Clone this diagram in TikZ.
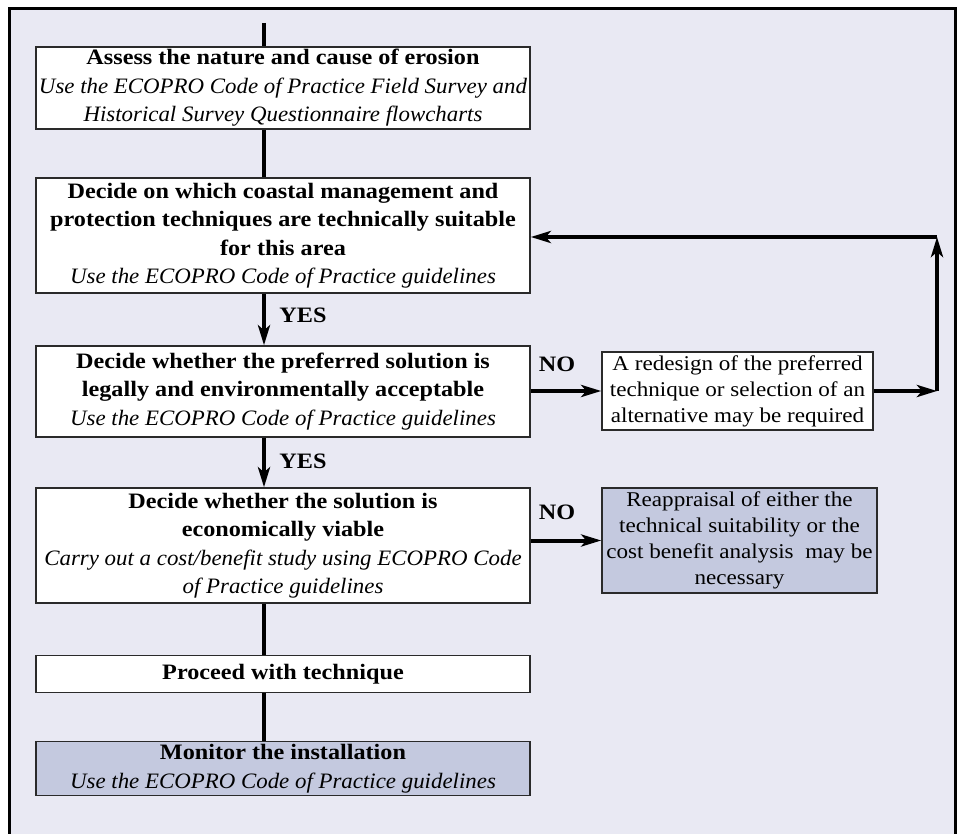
\documentclass[tikz,border=0pt]{standalone}
\usepackage{fontspec}
\setmainfont{Liberation Serif}[
  UprightFeatures={FakeStretch=1.1},
  BoldFeatures={FakeStretch=1.1},
  ItalicFeatures={FakeStretch=1.04}]
\usetikzlibrary{arrows.meta}
\definecolor{bgl}{HTML}{E9E9F3}
\definecolor{blu}{HTML}{C4C9DF}
\definecolor{edge}{HTML}{2A2A2A}
\tikzset{
  box/.style={draw=edge, line width=1.5pt, fill=white, inner sep=0pt, align=center,
    font=\fontsize{22}{28.5}\selectfont},
  sidebox/.style={draw=edge, line width=1.5pt, fill=white, inner sep=0pt, align=center,
    font=\fontsize{21}{26}\selectfont},
  lbl/.style={inner sep=0pt, font=\fontsize{22}{25}\selectfont\bfseries},
  flow/.style={line width=4pt},
  tip/.style={line width=4pt, -{Stealth[length=20pt,width=12pt,inset=5pt]}},
}
\begin{document}
\begin{tikzpicture}[x=1pt,y=-1pt]
\useasboundingbox (0,0) rectangle (962,834);
\fill[white] (0,0) rectangle (962,834);
\fill[bgl] (9.5,8.5) rectangle (955,834);
\draw[line width=3pt] (9.5,840) -- (9.5,8.5) -- (955,8.5) -- (955,840);

\coordinate (top) at (264,23);
\node[box, minimum width=494pt, minimum height=82pt] (b1) at (283,88)
  {\textbf{Assess the nature and cause of erosion}\\
   \textit{Use the ECOPRO Code of Practice Field Survey and}\\
   \textit{Historical Survey Questionnaire flowcharts}};
\node[box, minimum width=494pt, minimum height=115pt] (b2) at (283,235.5)
  {\textbf{Decide on which coastal management and}\\
   \textbf{protection techniques are technically suitable}\\
   \textbf{for this area}\\
   \textit{Use the ECOPRO Code of Practice guidelines}};
\node[box, minimum width=494pt, minimum height=91pt] (b3) at (283,391.5)
  {\textbf{Decide whether the preferred solution is}\\
   \textbf{legally and environmentally acceptable}\\
   \textit{Use the ECOPRO Code of Practice guidelines}};
\node[box, minimum width=494pt, minimum height=115pt] (b4) at (283,545.5)
  {\textbf{Decide whether the solution is}\\
   \textbf{economically viable}\\
   \textit{Carry out a cost/benefit study using ECOPRO Code}\\
   \textit{of Practice guidelines}};
\node[box, minimum width=494pt, minimum height=37pt] (b5) at (283,674)
  {\textbf{Proceed with technique}};
\node[box, fill=blu, minimum width=494pt, minimum height=54pt] (b6) at (283,768.5)
  {\textbf{Monitor the installation}\\
   \textit{Use the ECOPRO Code of Practice guidelines}};

\node[sidebox, minimum width=271pt, minimum height=78pt] (r1) at (737.5,391)
  {A redesign of the preferred\\technique or selection of an\\alternative may be required};
\node[sidebox, fill=blu, minimum width=275pt, minimum height=105pt] (r2) at (739.5,540.5)
  {Reappraisal of either the\\technical suitability or the\\cost benefit analysis\ \ may be\\necessary};

\coordinate (c1) at (937,391);
\coordinate (c2) at (937,237);

\draw[flow] (top) -- (b1.north -| top);
\draw[flow] (b1.south -| top) -- (b2.north -| top);
\draw[tip] (b2.south -| top) -- (b3.north -| top);
\draw[tip] (b3.south -| top) -- (b4.north -| top);
\draw[flow] (b4.south -| top) -- (b5.north -| top);
\draw[flow] (b5.south -| top) -- (b6.north -| top);

\draw[tip] (b3.east |- r1.west) -- (r1.west);
\draw[tip] (r1.east) -- (c1);
\draw[tip] (c1) -- (c2);
\draw[tip] (c2) -- (c2 -| b2.east);
\draw[tip] (b4.east |- r2.west) -- (r2.west);

\node[lbl] (yes1) at (303,315) {YES};
\node[lbl] (yes2) at (303,461) {YES};
\node[lbl] (no1) at (557,364) {NO};
\node[lbl] (no2) at (557,512) {NO};
\end{tikzpicture}
\end{document}
